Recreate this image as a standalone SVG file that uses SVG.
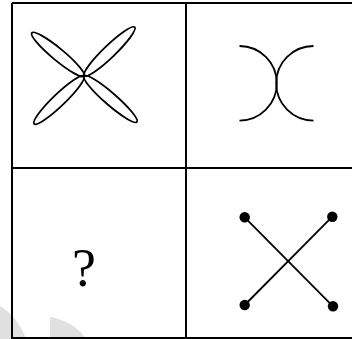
<svg xmlns="http://www.w3.org/2000/svg" width="352" height="339" viewBox="0 0 352 339">
<style>
.ln{stroke:#000;stroke-width:2;fill:none}
.sh{stroke:#000;stroke-width:1.8;fill:none}
.wm{fill:#e0e0e0;stroke:none}
</style>
<rect width="352" height="339" fill="#fff"/>
<g id="watermark">
<path class="wm" d="M0,306 Q18,317 26,339 L0,339 Z"/>
<path class="wm" d="M50,317 Q74,321 86,339 L50,339 Z"/>
</g>
<g id="grid">
<line class="ln" x1="12" y1="3" x2="352" y2="3"/>
<line class="ln" x1="12" y1="168" x2="352" y2="168"/>
<line class="ln" x1="12" y1="338" x2="352" y2="338"/>
<line class="ln" x1="12" y1="3" x2="12" y2="339"/>
<line class="ln" x1="186" y1="3" x2="186" y2="339"/>
</g>
<g id="flower">
<ellipse class="sh" cx="58" cy="54.5" rx="34" ry="6" transform="rotate(39.6 58 54.5)"/>
<ellipse class="sh" cx="109.5" cy="51.5" rx="35" ry="6" transform="rotate(-43.9 109.5 51.5)"/>
<ellipse class="sh" cx="59" cy="100" rx="34.5" ry="6" transform="rotate(-43.8 59 100)"/>
<ellipse class="sh" cx="110.5" cy="99" rx="35" ry="6" transform="rotate(41 110.5 99)"/>
</g>
<g id="arcs">
<path class="sh" d="M239.5,46 A37.3,37.3 0 0 1 239.5,120.6"/>
<path class="sh" d="M313.5,46 A37.3,37.3 0 0 0 313.5,120.6"/>
</g>
<g id="question">
<text x="84" y="285.5" font-family="'Liberation Serif', serif" font-size="54" text-anchor="middle">?</text>
</g>
<g id="cross">
<line class="sh" x1="244.7" y1="217.3" x2="333" y2="306.3"/>
<line class="sh" x1="332.3" y1="216.7" x2="244.7" y2="305"/>
<circle cx="244.7" cy="217.3" r="5.2"/>
<circle cx="332.3" cy="216.7" r="5.2"/>
<circle cx="244.7" cy="305" r="5.2"/>
<circle cx="333" cy="306.3" r="5.2"/>
</g>
</svg>
